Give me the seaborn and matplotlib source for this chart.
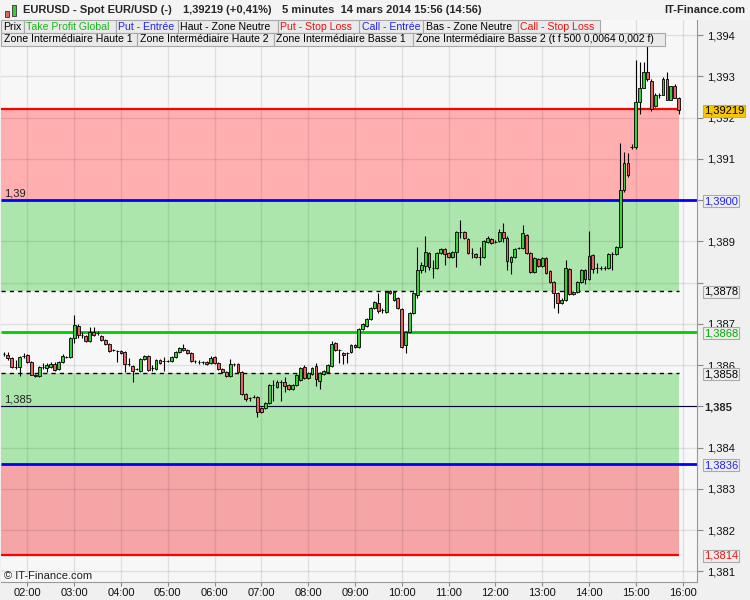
import numpy as np
import pandas as pd
import matplotlib
matplotlib.use("Agg")
import matplotlib.pyplot as plt
import matplotlib.transforms as mtransforms
from matplotlib.patches import Rectangle
import seaborn as sns

# 5 minute candles, EUR/USD spot, 14 mars 2014 from 01:30
opens = [
    1.38627, 1.38624, 1.38617, 1.38595, 1.38595, 1.38622, 1.38624, 1.38607, 1.38576, 1.38573,
    1.38595, 1.38593, 1.38595, 1.38602, 1.38590, 1.38607, 1.38619, 1.38619, 1.38666, 1.38695,
    1.38673, 1.38670, 1.38658, 1.38680, 1.38678, 1.38670, 1.38661, 1.38651, 1.38636, 1.38634,
    1.38634, 1.38632, 1.38602, 1.38598, 1.38590, 1.38585, 1.38615, 1.38622, 1.38593, 1.38590,
    1.38612, 1.38610, 1.38610, 1.38610, 1.38619, 1.38632, 1.38641, 1.38636, 1.38629, 1.38610,
    1.38607, 1.38607, 1.38607, 1.38605, 1.38619, 1.38605, 1.38590, 1.38583, 1.38573, 1.38602,
    1.38602, 1.38583, 1.38530, 1.38520, 1.38522, 1.38522, 1.38496, 1.38496, 1.38508, 1.38551,
    1.38547, 1.38559, 1.38559, 1.38551, 1.38542, 1.38551, 1.38564, 1.38595, 1.38568, 1.38578,
    1.38598, 1.38561, 1.38578, 1.38583, 1.38598, 1.38653, 1.38636, 1.38629, 1.38629, 1.38632,
    1.38649, 1.38644, 1.38687, 1.38695, 1.38712, 1.38739, 1.38751, 1.38734, 1.38729, 1.38780,
    1.38758, 1.38763, 1.38736, 1.38649, 1.38680, 1.38726, 1.38770, 1.38831, 1.38841, 1.38872,
    1.38836, 1.38836, 1.38872, 1.38882, 1.38872, 1.38862, 1.38875, 1.38923, 1.38923, 1.38906,
    1.38872, 1.38870, 1.38862, 1.38862, 1.38899, 1.38906, 1.38899, 1.38901, 1.38923, 1.38909,
    1.38850, 1.38862, 1.38884, 1.38884, 1.38916, 1.38872, 1.38826, 1.38858, 1.38841, 1.38860,
    1.38828, 1.38802, 1.38775, 1.38751, 1.38758, 1.38833, 1.38773, 1.38777, 1.38802, 1.38831,
    1.38809, 1.38867, 1.38836, 1.38836, 1.38836, 1.38836, 1.38870, 1.38870, 1.38887, 1.39025,
    1.39091, 1.39130, 1.39130, 1.39237, 1.39273, 1.39312, 1.39290, 1.39229, 1.39254, 1.39256,
    1.39295, 1.39244, 1.39276, 1.39249,
]
highs = [
    1.38632, 1.38632, 1.38619, 1.38612, 1.38622, 1.38629, 1.38627, 1.38610, 1.38578, 1.38598,
    1.38605, 1.38605, 1.38607, 1.38607, 1.38610, 1.38627, 1.38622, 1.38668, 1.38722, 1.38700,
    1.38680, 1.38673, 1.38692, 1.38692, 1.38683, 1.38673, 1.38663, 1.38653, 1.38639, 1.38636,
    1.38636, 1.38634, 1.38617, 1.38600, 1.38593, 1.38617, 1.38624, 1.38624, 1.38600, 1.38615,
    1.38615, 1.38619, 1.38612, 1.38622, 1.38634, 1.38644, 1.38651, 1.38639, 1.38632, 1.38612,
    1.38612, 1.38610, 1.38610, 1.38622, 1.38622, 1.38607, 1.38593, 1.38585, 1.38615, 1.38605,
    1.38605, 1.38585, 1.38532, 1.38522, 1.38527, 1.38525, 1.38498, 1.38510, 1.38554, 1.38564,
    1.38564, 1.38564, 1.38571, 1.38554, 1.38554, 1.38578, 1.38595, 1.38600, 1.38583, 1.38595,
    1.38605, 1.38583, 1.38588, 1.38602, 1.38658, 1.38656, 1.38639, 1.38632, 1.38632, 1.38651,
    1.38651, 1.38690, 1.38702, 1.38714, 1.38741, 1.38756, 1.38775, 1.38739, 1.38780, 1.38783,
    1.38780, 1.38765, 1.38739, 1.38683, 1.38729, 1.38777, 1.38887, 1.38850, 1.38913, 1.38875,
    1.38855, 1.38875, 1.38884, 1.38884, 1.38875, 1.38877, 1.38926, 1.38952, 1.38926, 1.38909,
    1.38884, 1.38872, 1.38887, 1.38904, 1.38913, 1.38909, 1.38904, 1.38930, 1.38945, 1.38913,
    1.38865, 1.38884, 1.38887, 1.38940, 1.38918, 1.38875, 1.38862, 1.38860, 1.38862, 1.38862,
    1.38831, 1.38804, 1.38777, 1.38763, 1.38855, 1.38836, 1.38780, 1.38804, 1.38833, 1.38833,
    1.38926, 1.38870, 1.38848, 1.38841, 1.38841, 1.38872, 1.38875, 1.38889, 1.39139, 1.39118,
    1.39115, 1.39137, 1.39341, 1.39334, 1.39334, 1.39373, 1.39293, 1.39259, 1.39261, 1.39298,
    1.39310, 1.39278, 1.39281, 1.39251,
]
lows = [
    1.38622, 1.38612, 1.38593, 1.38590, 1.38573, 1.38617, 1.38605, 1.38576, 1.38571, 1.38571,
    1.38590, 1.38583, 1.38593, 1.38585, 1.38588, 1.38605, 1.38617, 1.38617, 1.38653, 1.38666,
    1.38666, 1.38656, 1.38656, 1.38670, 1.38673, 1.38658, 1.38649, 1.38632, 1.38634, 1.38607,
    1.38627, 1.38583, 1.38598, 1.38559, 1.38588, 1.38583, 1.38612, 1.38585, 1.38585, 1.38588,
    1.38602, 1.38585, 1.38607, 1.38607, 1.38617, 1.38629, 1.38634, 1.38627, 1.38607, 1.38605,
    1.38602, 1.38602, 1.38600, 1.38602, 1.38602, 1.38588, 1.38581, 1.38571, 1.38571, 1.38598,
    1.38581, 1.38527, 1.38513, 1.38513, 1.38520, 1.38474, 1.38483, 1.38493, 1.38505, 1.38513,
    1.38544, 1.38513, 1.38534, 1.38539, 1.38539, 1.38549, 1.38561, 1.38566, 1.38566, 1.38576,
    1.38549, 1.38542, 1.38576, 1.38581, 1.38595, 1.38634, 1.38605, 1.38602, 1.38605, 1.38629,
    1.38641, 1.38641, 1.38685, 1.38692, 1.38709, 1.38736, 1.38726, 1.38726, 1.38726, 1.38773,
    1.38756, 1.38736, 1.38641, 1.38629, 1.38678, 1.38724, 1.38763, 1.38824, 1.38826, 1.38831,
    1.38811, 1.38833, 1.38870, 1.38843, 1.38860, 1.38860, 1.38838, 1.38909, 1.38906, 1.38870,
    1.38860, 1.38860, 1.38843, 1.38860, 1.38896, 1.38894, 1.38896, 1.38899, 1.38899, 1.38831,
    1.38821, 1.38860, 1.38882, 1.38882, 1.38870, 1.38824, 1.38824, 1.38838, 1.38838, 1.38821,
    1.38799, 1.38739, 1.38726, 1.38748, 1.38756, 1.38770, 1.38770, 1.38775, 1.38799, 1.38797,
    1.38806, 1.38824, 1.38824, 1.38831, 1.38831, 1.38833, 1.38831, 1.38867, 1.38884, 1.39020,
    1.39057, 1.39123, 1.39123, 1.39208, 1.39271, 1.39290, 1.39217, 1.39227, 1.39249, 1.39254,
    1.39242, 1.39242, 1.39247, 1.39208,
]
closes = [
    1.38627, 1.38617, 1.38595, 1.38595, 1.38619, 1.38622, 1.38607, 1.38576, 1.38573, 1.38595,
    1.38595, 1.38600, 1.38602, 1.38588, 1.38607, 1.38622, 1.38619, 1.38666, 1.38697, 1.38673,
    1.38673, 1.38658, 1.38680, 1.38673, 1.38678, 1.38661, 1.38651, 1.38634, 1.38636, 1.38634,
    1.38629, 1.38602, 1.38602, 1.38585, 1.38590, 1.38615, 1.38622, 1.38588, 1.38593, 1.38612,
    1.38605, 1.38610, 1.38610, 1.38619, 1.38632, 1.38641, 1.38636, 1.38629, 1.38610, 1.38610,
    1.38607, 1.38607, 1.38602, 1.38617, 1.38605, 1.38590, 1.38583, 1.38573, 1.38602, 1.38602,
    1.38583, 1.38530, 1.38517, 1.38520, 1.38522, 1.38486, 1.38486, 1.38508, 1.38551, 1.38551,
    1.38559, 1.38559, 1.38549, 1.38542, 1.38551, 1.38576, 1.38593, 1.38568, 1.38581, 1.38593,
    1.38566, 1.38581, 1.38585, 1.38600, 1.38651, 1.38636, 1.38636, 1.38624, 1.38629, 1.38649,
    1.38644, 1.38687, 1.38700, 1.38712, 1.38739, 1.38753, 1.38731, 1.38734, 1.38777, 1.38775,
    1.38777, 1.38739, 1.38644, 1.38680, 1.38726, 1.38775, 1.38831, 1.38843, 1.38875, 1.38838,
    1.38836, 1.38872, 1.38882, 1.38870, 1.38862, 1.38875, 1.38923, 1.38923, 1.38909, 1.38872,
    1.38872, 1.38862, 1.38862, 1.38901, 1.38909, 1.38896, 1.38899, 1.38923, 1.38909, 1.38853,
    1.38862, 1.38882, 1.38884, 1.38921, 1.38872, 1.38826, 1.38860, 1.38841, 1.38860, 1.38824,
    1.38802, 1.38775, 1.38751, 1.38758, 1.38836, 1.38773, 1.38777, 1.38802, 1.38831, 1.38809,
    1.38865, 1.38833, 1.38836, 1.38836, 1.38836, 1.38870, 1.38870, 1.38887, 1.39025, 1.39091,
    1.39062, 1.39130, 1.39237, 1.39273, 1.39312, 1.39293, 1.39220, 1.39256, 1.39254, 1.39295,
    1.39244, 1.39276, 1.39249, 1.39219,
]
start_time = "2014-03-14 01:30"
hour_labels = ["02:00", "03:00", "04:00", "05:00", "06:00", "07:00", "08:00", "09:00",
               "10:00", "11:00", "12:00", "13:00", "14:00", "15:00", "16:00"]
price_ticks = [1.381, 1.382, 1.383, 1.384, 1.385, 1.386, 1.387, 1.388,
               1.389, 1.390, 1.391, 1.392, 1.393, 1.394]
hidden_ticks = [1.385, 1.388, 1.390]

# levels of the strategy
level_values = [1.3922, 1.3900, 1.3878, 1.3868, 1.3858, 1.3836, 1.3814]
level_colors = ["#ff0000", "#0000ff", "#000000", "#00cc00", "#000000", "#0000ff", "#ff0000"]
level_styles = ["-", "-", (0, (3, 3)), "-", (0, (3, 3)), "-", "-"]
level_widths = [1.6, 2.0, 1.0, 2.0, 1.0, 2.0, 1.6]
zone_low = [1.3900, 1.3878, 1.3836, 1.3814]
zone_high = [1.3922, 1.3900, 1.3858, 1.3836]
zone_colors = ["#ffafaf", "#ade6ad", "#ade6ad", "#f5a5a5"]
pivot_value = 1.385

label_values = [1.39219, 1.3900, 1.3878, 1.3868, 1.3858, 1.3836, 1.3814]
label_texts = ["1,39219", "1,3900", "1,3878", "1,3868", "1,3858", "1,3836", "1,3814"]
label_colors = ["#000000", "#2222ee", "#000000", "#00aa00", "#000000", "#2222ee", "#ee1111"]
label_faces = ["#f7c600", "#eeeeee", "#eeeeee", "#eeeeee", "#eeeeee", "#eeeeee", "#eeeeee"]

legend_row1 = ["Prix", "Take Profit Global", "Put - Entrée", "Haut - Zone Neutre",
               "Put - Stop Loss", "Call - Entrée", "Bas - Zone Neutre", "Call - Stop Loss"]
legend_row1_colors = ["#000000", "#11bb11", "#2222ee", "#000000",
                      "#ee1111", "#2222ee", "#000000", "#ee1111"]
legend_row2 = ["Zone Intermédiaire Haute 1", "Zone Intermédiaire Haute 2",
               "Zone Intermédiaire Basse 1",
               "Zone Intermédiaire Basse 2 (t f 500 0,0064 0,002 f)"]

df = pd.DataFrame({"open": opens, "high": highs, "low": lows, "close": closes})
df["time"] = pd.date_range(start_time, periods=len(df), freq="5min")
df["x"] = np.arange(len(df))
df["up"] = df["close"] >= df["open"]

sns.set_theme(style="white")
plt.rcParams["font.family"] = ["Liberation Sans", "DejaVu Sans"]

W, H = 750, 600
fig = plt.figure(figsize=(7.5, 6), dpi=100, facecolor="#f0f0f0")
ax = fig.add_axes([1 / W, 18 / H, 696 / W, 562 / H])
ax.set_facecolor("#f7f7f7")

x_left, x_right = -0.77, 177.7
ax.set_xlim(x_left, x_right)
ax.set_ylim(1.38074, 1.39437)

last_x = df["x"].iloc[-1] + 0.1

# zones
for lo, hi, col in zip(zone_low, zone_high, zone_colors):
    ax.fill_between([x_left, last_x], lo, hi, color=col, lw=0, zorder=1)

# grid above the zones
hour_pos = [6 + 12 * k for k in range(len(hour_labels))]
for xp in hour_pos:
    ax.axvline(xp, color="black", alpha=0.09, lw=1, zorder=1.5)
for yp in price_ticks:
    ax.axhline(yp, color="black", alpha=0.09, lw=1, zorder=1.5)

# level lines
for val, col, ls, lw in zip(level_values, level_colors, level_styles, level_widths):
    xr = x_right if col in ("#0000ff", "#00cc00") else last_x
    ax.hlines(val, x_left, xr, colors=col, linestyles=ls, linewidth=lw, zorder=2)
ax.axhline(pivot_value, color="#000033", lw=0.8, zorder=2)

# candles
body_lo = df[["open", "close"]].min(axis=1)
body_hi = df[["open", "close"]].max(axis=1)
ax.vlines(df["x"], df["low"], df["high"], color="black", lw=0.8, zorder=3)
ax.bar(df["x"], body_hi - body_lo, bottom=body_lo, width=0.72,
       color=np.where(df["up"], "#3ccc3c", "#e26464"),
       edgecolor="black", linewidth=0.6, zorder=4)

# axes
ax.yaxis.tick_right()
ax.set_yticks(price_ticks)
ax.set_yticklabels(["" if t in hidden_ticks else f"{t:.3f}".replace(".", ",")
                    for t in price_ticks])
ax.set_xticks(hour_pos)
ax.set_xticklabels(hour_labels)
ax.tick_params(axis="both", which="both", width=0.8, color="#888888",
               labelsize=8, labelcolor="#111111")
ax.tick_params(axis="y", right=True, left=False, length=4, pad=3)
ax.tick_params(axis="x", bottom=True, length=3, pad=1)
for side in ["top", "left"]:
    ax.spines[side].set_visible(False)
for side in ["right", "bottom"]:
    ax.spines[side].set_color("#999999")
    ax.spines[side].set_linewidth(0.8)
ax.grid(False)

# right side price boxes
trans = mtransforms.blended_transform_factory(ax.transAxes, ax.transData)
for val, txt, col, fc in zip(label_values, label_texts, label_colors, label_faces):
    ax.text(1.0105, val, txt, transform=trans, color=col, fontsize=8, va="center_baseline",
            ha="left", clip_on=False, zorder=10,
            bbox=dict(boxstyle="square,pad=0.08", fc=fc, ec="#aaaaaa", lw=0.8))
ax.text(1.0105, pivot_value, "1,385", transform=trans, fontsize=8, fontweight="bold",
        va="center_baseline", ha="left", clip_on=False, zorder=10)

# in-plot labels
ax.text(3 / 696, 1.3900 + 0.00017, "1,39", transform=trans, fontsize=8,
        color="#222222", va="center", zorder=5)
ax.text(3 / 696, pivot_value + 0.00017, "1,385", transform=trans, fontsize=8,
        color="#222222", va="center", zorder=5)

# header bar
fig.patches.append(Rectangle((0, 1 - 20 / H), 1, 20 / H, transform=fig.transFigure,
                             fc="#f4f4f4", ec="none", zorder=0))
fig.patches.append(Rectangle((5 / W, 1 - 17 / H), 4 / W, 6 / H, transform=fig.transFigure,
                             fc="#e26464", ec="#333333", lw=0.6))
fig.patches.append(Rectangle((12 / W, 1 - 16 / H), 4 / W, 11 / H, transform=fig.transFigure,
                             fc="#3ccc3c", ec="#333333", lw=0.6))


def fy(ypx):
    return 1 - ypx / H


fig.text(23 / W, fy(10), "EURUSD - Spot EUR/USD (-)", fontsize=8, fontweight="bold", va="center")
fig.text(183 / W, fy(10), "1,39219 (+0,41%)", fontsize=8, fontweight="bold", va="center")
fig.text(282 / W, fy(10), "5 minutes  14 mars 2014 15:56 (14:56)", fontsize=8,
         fontweight="bold", va="center")
fig.text(745 / W, fy(10), "IT-Finance.com", fontsize=8, fontweight="bold", va="center",
         ha="right")

# legend boxes
row1_edges = [1, 24, 116, 178, 278, 359, 423, 518, 600]
row2_edges = [1, 137, 274, 413, 665]
for edges, texts, colors, top in [(row1_edges, legend_row1, legend_row1_colors, 20),
                                  (row2_edges, legend_row2, ["#000000"] * 4, 33)]:
    for k, txt in enumerate(texts):
        x0, x1 = edges[k], edges[k + 1]
        fig.patches.append(Rectangle((x0 / W, fy(top + 13)), (x1 - x0) / W, 13 / H,
                                     transform=fig.transFigure, fc="#eaeaea",
                                     ec="#a8a8a8", lw=0.8, zorder=5))
        fig.text((x0 + 2.5) / W, fy(top + 6.5), txt, fontsize=7.6, color=colors[k],
                 va="center", zorder=6)

fig.text(4 / W, fy(576), "© IT-Finance.com", fontsize=8, color="#222222", va="center")

fig.savefig("out.png", dpi=100, facecolor=fig.get_facecolor())
